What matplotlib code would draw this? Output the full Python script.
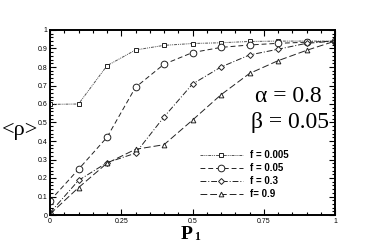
import matplotlib
matplotlib.use("Agg")
import matplotlib.pyplot as plt
from matplotlib.ticker import MultipleLocator, FixedLocator

p1 = [0.0, 0.1, 0.2, 0.3, 0.4, 0.5, 0.6, 0.7, 0.8, 0.9, 1.0]
rho_f0005 = [0.598, 0.600, 0.807, 0.892, 0.917, 0.927, 0.931, 0.938, 0.940, 0.940, 0.940]
rho_f005 = [0.077, 0.247, 0.420, 0.690, 0.815, 0.878, 0.906, 0.919, 0.928, 0.934, 0.940]
rho_f03 = [0.012, 0.187, 0.283, 0.334, 0.530, 0.708, 0.800, 0.865, 0.896, 0.928, 0.940]
rho_f09 = [0.005, 0.148, 0.280, 0.355, 0.380, 0.513, 0.650, 0.765, 0.834, 0.890, 0.940]
labels = ["f = 0.005", "f = 0.05", "f = 0.3", "f= 0.9"]
xticks = [0, 0.25, 0.5, 0.75, 1]
xticklabels = ["0", "0.25", "0.5", "0.75", "1"]
yticks = [0, 0.1, 0.2, 0.3, 0.4, 0.5, 0.6, 0.7, 0.8, 0.9, 1.0]
yticklabels = ["0", "0.1", "0.2", "0.3", "0.4", "0.5", "0.6", "0.7", "0.8", "0.9", "1"]

W, H = 382, 243
fig = plt.figure(figsize=(W / 100, H / 100), dpi=100)
L, R, T, B = 50, 335, 30, 215
ax = fig.add_axes([L / W, 1 - B / H, (R - L) / W, (B - T) / H])

series = [rho_f0005, rho_f005, rho_f03, rho_f09]
styles = [
    dict(color="#555555", ls=(0, (3, 1, 1, 1, 1, 1)), marker="s", ms=3.4),
    dict(color="#222222", ls=(0, (5, 3)), marker="o", ms=4.8),
    dict(color="#222222", ls=(0, (6, 2, 1, 2)), marker="D", ms=3.0),
    dict(color="#222222", ls=(0, (7, 3)), marker="^", ms=3.4),
]
for ys, st, lab in zip(series, styles, labels):
    ax.plot(p1, ys, color=st["color"], linestyle=st["ls"], lw=0.7,
            marker=st["marker"], markersize=st["ms"], markerfacecolor="white",
            markeredgecolor="#222222", markeredgewidth=0.7, label=lab)

ax.set_xlim(0, 1)
ax.set_ylim(0, 1)
ax.xaxis.set_major_locator(FixedLocator(xticks))
ax.set_xticklabels(xticklabels)
ax.yaxis.set_major_locator(FixedLocator(yticks))
ax.set_yticklabels(yticklabels)
ax.xaxis.set_minor_locator(MultipleLocator(0.05))
ax.yaxis.set_minor_locator(MultipleLocator(0.02))
ax.tick_params(which="both", direction="in", top=True, right=True,
               labelsize=5, pad=2, width=0.8)
ax.tick_params(which="major", length=4)
ax.tick_params(which="minor", length=2)
for lab in ax.get_xticklabels() + ax.get_yticklabels():
    lab.set_family("Liberation Sans")
for s in ax.spines.values():
    s.set_linewidth(1.4)

leg = ax.legend(loc="upper left", bbox_to_anchor=(0.526, 0.35), frameon=False,
                borderpad=0, borderaxespad=0, handlelength=4.4,
                handletextpad=0.8, labelspacing=0.3,
                prop=dict(family="Liberation Sans", weight="bold", size=7))

fig.text(20 / W, 1 - 130 / H, "<ρ>", ha="center", va="center",
         fontsize=16, family="Liberation Serif")
fig.text(288 / W, 1 - 96 / H, "α = 0.8", ha="center", va="center",
         fontsize=17, family="Liberation Serif")
fig.text(290 / W, 1 - 122 / H, "β = 0.05", ha="center", va="center",
         fontsize=17, family="Liberation Serif")
fig.text(187 / W, 1 - 239 / H, "P", ha="center", va="baseline",
         fontsize=14, family="Liberation Serif", weight="bold")
fig.text(197 / W, 1 - 240 / H, "1", ha="center", va="baseline",
         fontsize=8.5, family="Liberation Serif", weight="bold")

fig.savefig("out.png", dpi=100)
